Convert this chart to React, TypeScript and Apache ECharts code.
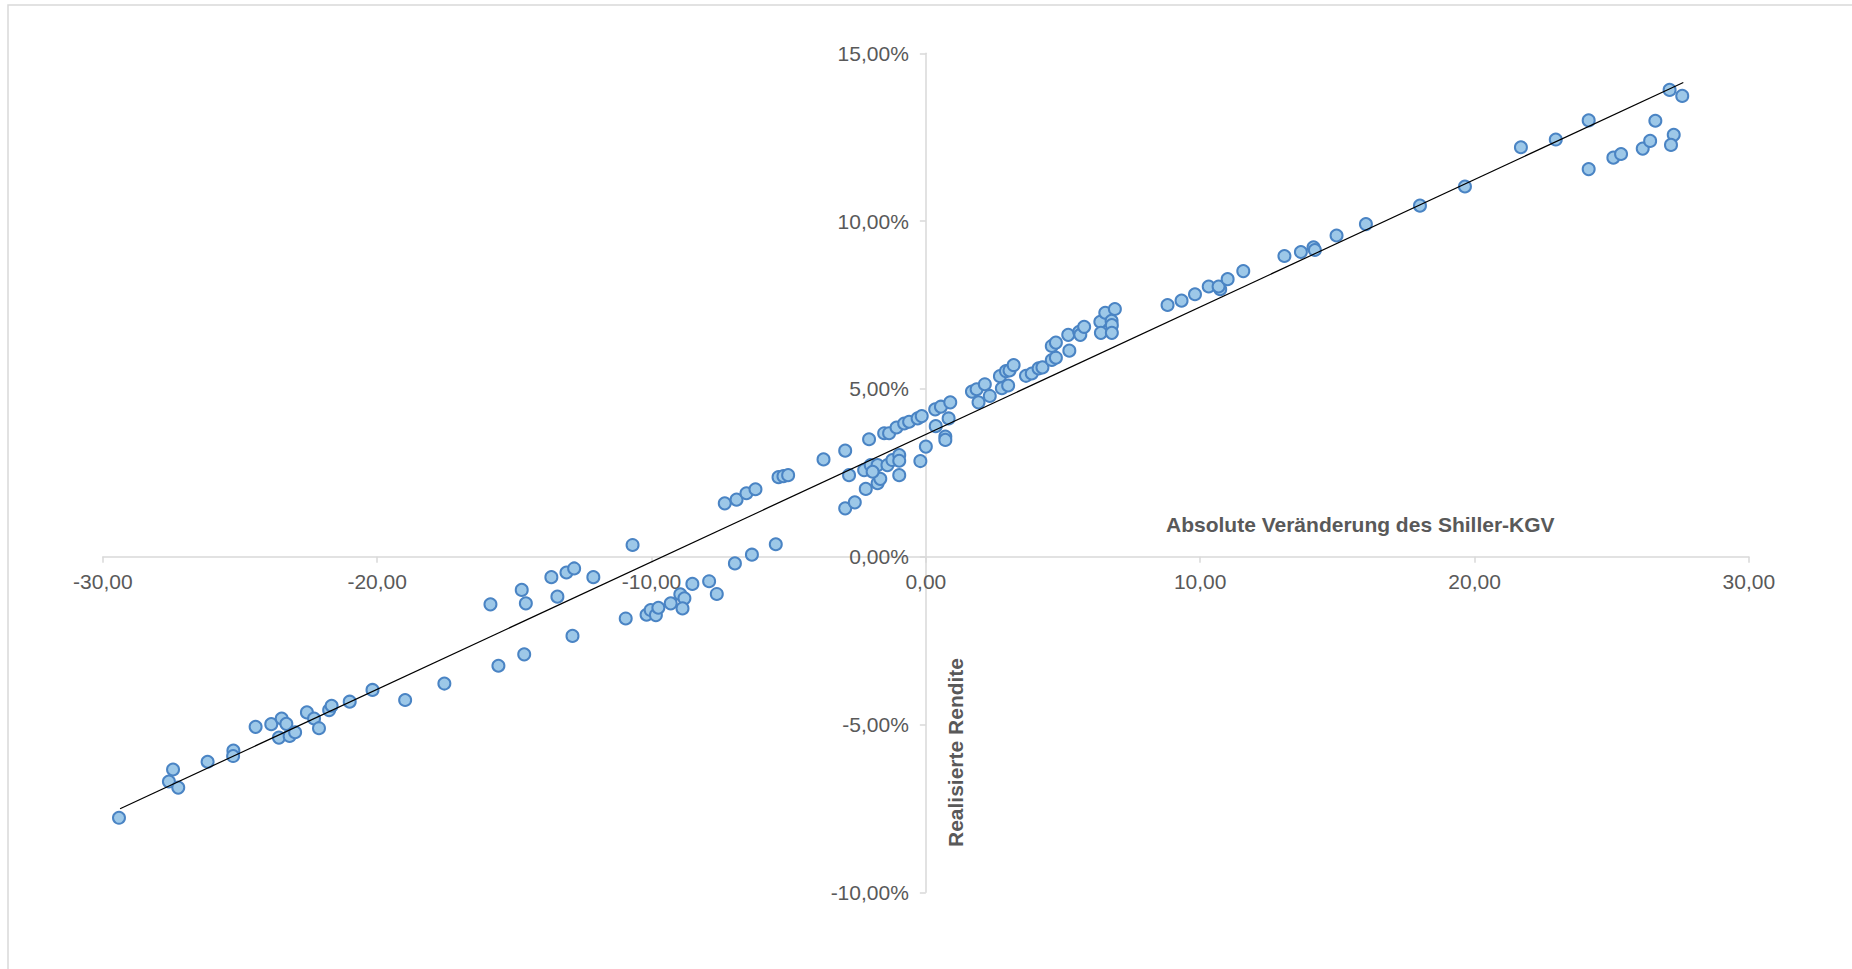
import React, { useEffect, useRef } from "react";
import * as echarts from "echarts";

// Absolute change of the Shiller P/E (x) vs. realised return in % (y)
const shillerChange: number[] = [
  -29.41, -27.59, -27.44, -27.25, -26.18, -25.24, -25.25, -24.43, -23.86, -23.48,
  -23.31, -23.58, -23.19, -22.99, -22.56, -22.3, -22.12, -21.75, -21.66, -21.0,
  -20.17, -18.98, -17.55, -15.87, -15.58, -14.73, -14.58, -14.64,
  -13.65, -13.43, -13.1, -12.82, -12.88, -12.12, -10.69, -10.94, -10.18, -10.03,
  -9.84, -9.75, -9.3, -8.95, -8.8, -8.87, -8.51, -7.9, -7.62, -6.96, -6.34, -5.47,
  -7.33, -6.9, -6.54, -6.21, -5.37, -5.19, -5.02, -3.73, -2.94, -2.07, -2.94, -2.59, -2.8,
  -2.19, -2.25, -2.01, -1.76, -1.76, -1.66, -1.94, -1.4, -1.22, -0.97, -0.97, -0.97, -0.2,
  -1.52, -1.34, -1.07, -0.79, -0.61, -0.3, -0.15, 0.34, 0.55, 0.89, 0.36, 0.83, 0.71, 0.71, 0.0,
  1.68, 1.85, 2.15, 1.92, 2.33, 2.7, 2.92, 3.05, 3.2, 2.77, 3.0, 3.65, 3.86, 4.11, 4.25,
  4.59, 4.74, 4.59, 4.74, 5.23, 5.19, 5.59, 5.63, 5.77, 6.36, 6.38, 6.54, 6.77, 6.78, 6.78, 6.89,
  8.81, 9.32, 9.81, 10.31, 10.73, 10.67, 11.0, 11.57, 13.07, 13.67, 14.13, 14.18, 14.97,
  16.04, 18.01, 19.65,
  21.69, 22.96, 24.16, 24.16, 25.06, 25.34, 26.13, 26.4, 26.59, 27.11, 27.57, 27.26, 27.16,
];

const realizedReturn: number[] = [
  -7.78, -6.7, -6.34, -6.88, -6.11, -5.78, -5.94, -5.07, -4.99, -4.82,
  -4.98, -5.39, -5.34, -5.23, -4.64, -4.82, -5.11, -4.57, -4.44, -4.32,
  -3.97, -4.27, -3.78, -1.42, -3.25, -0.99, -1.39, -2.91,
  -0.61, -1.19, -0.47, -0.35, -2.36, -0.61, 0.35, -1.84, -1.73, -1.59,
  -1.74, -1.52, -1.39, -1.12, -1.24, -1.54, -0.81, -0.73, -1.11, -0.2, 0.06, 0.37,
  1.59, 1.7, 1.89, 2.01, 2.37, 2.4, 2.43, 2.9, 3.16, 3.5, 1.44, 1.62, 2.43,
  2.02, 2.58, 2.73, 2.73, 2.19, 2.32, 2.53, 2.73, 2.88, 3.03, 2.86, 2.43, 2.85,
  3.68, 3.68, 3.85, 3.97, 4.02, 4.12, 4.19, 4.39, 4.47, 4.6, 3.89, 4.12, 3.58, 3.48, 3.28,
  4.92, 4.99, 5.14, 4.6, 4.79, 5.38, 5.53, 5.55, 5.71, 5.02, 5.1, 5.39, 5.46, 5.61, 5.64,
  5.86, 5.93, 6.28, 6.38, 6.14, 6.61, 6.7, 6.61, 6.85, 7.0, 6.67, 7.27, 7.03, 6.9, 6.67, 7.38,
  7.5, 7.63, 7.82, 8.05, 7.97, 8.05, 8.27, 8.51, 8.96, 9.08, 9.22, 9.14, 9.57,
  9.91, 10.46, 11.03,
  12.2, 12.43, 13.0, 11.55, 11.89, 12.0, 12.16, 12.39, 12.99, 13.91, 13.73, 12.57, 12.27,
];

// Linear trend line end points
const trendX: number[] = [-29.37, 27.61];
const trendY: number[] = [-7.51, 14.13];

// Axis settings
const xTicks = { min: -30, max: 30, interval: 10 };
const yTicks = { min: -10, max: 15, interval: 5 };

const xTitle = "Absolute Veränderung des Shiller-KGV";
const yTitle = "Realisierte Rendite";

const FONT = "'Liberation Sans', Arial, sans-serif";
const LABEL_COLOR = "#595959";
const AXIS_COLOR = "#d9d9d9";

// plot area (pixels in the 1852 x 969 canvas)
const GRID = { left: 102.8, right: 103.1, top: 53.3, bottom: 76.7 };
const W = 1852;
const H = 969;

const fmt = (v: number) => v.toFixed(2).replace(".", ",");

export default function App() {
  const ref = useRef<HTMLDivElement>(null);

  useEffect(() => {
    if (!ref.current) return;
    const chart = echarts.init(ref.current, undefined, { renderer: "svg" });

    const points = shillerChange.map((x, i) => [x, realizedReturn[i]]);
    const trend = trendX.map((x, i) => [x, trendY[i]]);

    // put the axes through the origin (crossing at 0 / 0)
    const plotW = W - GRID.left - GRID.right;
    const plotH = H - GRID.top - GRID.bottom;
    const xZeroFromLeft = ((0 - xTicks.min) / (xTicks.max - xTicks.min)) * plotW;
    const yZeroFromBottom = ((0 - yTicks.min) / (yTicks.max - yTicks.min)) * plotH;

    chart.setOption({
      animation: false,
      backgroundColor: "#ffffff",
      textStyle: { fontFamily: FONT },
      grid: {
        left: GRID.left,
        right: GRID.right,
        top: GRID.top,
        bottom: GRID.bottom,
        containLabel: false,
        outerBoundsMode: "none",
      },
      xAxis: {
        type: "value",
        position: "bottom",
        offset: -yZeroFromBottom,
        min: xTicks.min,
        max: xTicks.max,
        interval: xTicks.interval,
        axisLine: { show: true, onZero: false, lineStyle: { color: AXIS_COLOR, width: 1.5 } },
        axisTick: { show: true, inside: false, length: 6, lineStyle: { color: AXIS_COLOR, width: 1.5 } },
        axisLabel: {
          color: LABEL_COLOR,
          fontSize: 21,
          fontFamily: FONT,
          margin: 14,
          formatter: (v: number) => fmt(v),
        },
        splitLine: { show: false },
      },
      yAxis: {
        type: "value",
        position: "left",
        offset: -xZeroFromLeft,
        min: yTicks.min,
        max: yTicks.max,
        interval: yTicks.interval,
        axisLine: { show: true, onZero: false, lineStyle: { color: AXIS_COLOR, width: 1.5 } },
        axisTick: { show: true, inside: false, length: 6, lineStyle: { color: AXIS_COLOR, width: 1.5 } },
        axisLabel: {
          color: LABEL_COLOR,
          fontSize: 21,
          fontFamily: FONT,
          margin: 17,
          formatter: (v: number) => fmt(v) + "%",
        },
        splitLine: { show: false },
      },
      graphic: [
        {
          type: "rect",
          shape: { x: 8, y: 5, width: 1900, height: 1000 },
          style: { fill: "none", stroke: AXIS_COLOR, lineWidth: 1.5 },
          silent: true,
          z: -10,
        },
        {
          type: "text",
          x: 1166,
          y: 524,
          style: {
            text: xTitle,
            fill: LABEL_COLOR,
            font: `bold 21px ${FONT}`,
            textAlign: "left",
            textVerticalAlign: "middle",
          },
        },
        {
          type: "text",
          x: 955,
          y: 752.5,
          rotation: Math.PI / 2,
          style: {
            text: yTitle,
            fill: LABEL_COLOR,
            font: `bold 21px ${FONT}`,
            textAlign: "center",
            textVerticalAlign: "middle",
          },
        },
      ],
      series: [
        {
          type: "scatter",
          data: points,
          symbol: "circle",
          symbolSize: 12,
          itemStyle: { color: "#9dc8e8", borderColor: "#4a84c4", borderWidth: 2, opacity: 1 },
          z: 2,
        },
        {
          type: "line",
          data: trend,
          showSymbol: false,
          symbol: "none",
          lineStyle: { color: "#000000", width: 1.2 },
          z: 3,
        },
      ],
    });

    return () => chart.dispose();
  }, []);

  return (
    <div
      ref={ref}
      style={{ position: "absolute", left: 0, top: 0, width: W, height: H, background: "#fff" }}
    />
  );
}
